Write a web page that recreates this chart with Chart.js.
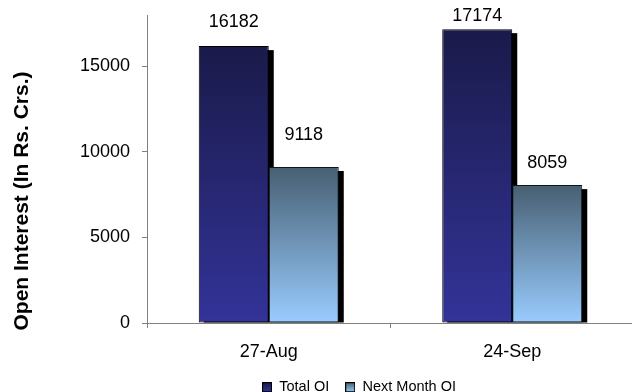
<!DOCTYPE html>
<html>
<head>
<meta charset="utf-8">
<script src="https://cdn.jsdelivr.net/npm/chart.js@4/dist/chart.umd.min.js"></script>
<style>
  html, body { margin: 0; padding: 0; background: #fff; overflow: hidden; }
  #wrap { width: 640px; height: 392px; position: relative; }
</style>
</head>
<body>
<div id="wrap"><canvas id="oi"></canvas></div>
<script>
// Expiry dates and open interest (Rs. crore)
const categories = ['27-Aug', '24-Sep'];
const totalOI = [16182, 17174];
const nextMonthOI = [9118, 8059];
const seriesNames = ['Total OI', 'Next Month OI'];
const yTicks = [0, 5000, 10000, 15000];
const yMax = 18000;

const FONT = "'Liberation Sans', Arial, sans-serif";
const AXIS_GREY = '#808080';

// Top and bottom colours of each series' vertical gradient
const shades = [
  { top: '#1a1a4a', bottom: '#333399' },
  { top: '#475f72', bottom: '#99ccff' }
];

function barFill(shade) {
  return (c) => {
    const chart = c.chart;
    const area = chart.chartArea;
    if (!area || c.type !== 'data') return shade.bottom;
    const y = chart.scales.y;
    const top = y.getPixelForValue(c.raw);
    const base = y.getPixelForValue(0);
    const g = chart.ctx.createLinearGradient(0, top, 0, base);
    g.addColorStop(0, shade.top);
    g.addColorStop(1, shade.bottom);
    return g;
  };
}

// Small gradient squares used as legend markers
function swatch(shade) {
  const s = 10;
  const cv = document.createElement('canvas');
  cv.width = s; cv.height = s;
  const x = cv.getContext('2d');
  const g = x.createLinearGradient(0, 0, 0, s);
  g.addColorStop(0, shade.top);
  g.addColorStop(1, shade.bottom);
  x.fillStyle = g;
  x.fillRect(0, 0, s, s);
  x.strokeStyle = '#000';
  x.lineWidth = 1;
  x.strokeRect(0.5, 0.5, s - 1, s - 1);
  return cv;
}
const swatches = shades.map(swatch);

// Solid drop shadow behind each bar, offset right and down
const barShadow = {
  id: 'barShadow',
  beforeDatasetsDraw(chart, args, opts) {
    const ctx = chart.ctx;
    ctx.save();
    ctx.fillStyle = '#000';
    chart.data.datasets.forEach((ds, i) => {
      chart.getDatasetMeta(i).data.forEach((bar) => {
        const p = bar.getProps(['x', 'y', 'base', 'width'], true);
        const left = p.x - p.width / 2 + opts.dx;
        const top = p.y + opts.dy;
        ctx.fillRect(left, top, p.width, p.base - top);
      });
    });
    ctx.restore();
  }
};

// Value labels above the bars
const valueLabels = {
  id: 'valueLabels',
  afterDatasetsDraw(chart, args, opts) {
    const ctx = chart.ctx;
    ctx.save();
    ctx.font = opts.font;
    ctx.fillStyle = '#000';
    ctx.textAlign = 'center';
    ctx.textBaseline = 'middle';
    chart.data.datasets.forEach((ds, i) => {
      chart.getDatasetMeta(i).data.forEach((bar, j) => {
        const p = bar.getProps(['x', 'y'], true);
        ctx.fillText(String(ds.data[j]), p.x, p.y - opts.lift[i][j]);
      });
    });
    ctx.restore();
  }
};

// Rotated title for the value axis
const sideTitle = {
  id: 'sideTitle',
  afterDraw(chart, args, opts) {
    const ctx = chart.ctx;
    ctx.save();
    ctx.translate(opts.x, opts.y);
    ctx.rotate(-Math.PI / 2);
    ctx.font = opts.font;
    ctx.fillStyle = '#000';
    ctx.textAlign = 'center';
    ctx.textBaseline = 'middle';
    ctx.fillText(opts.text, 0, 0);
    ctx.restore();
  }
};

// Moves the legend sideways after layout
const legendShift = {
  id: 'legendShift',
  afterLayout(chart, args, opts) {
    if (chart.legend) {
      chart.legend.left += opts.dx;
      chart.legend.right += opts.dx;
    }
  }
};

new Chart(document.getElementById('oi'), {
  type: 'bar',
  data: {
    labels: categories,
    datasets: [
      {
        label: seriesNames[0],
        data: totalOI,
        backgroundColor: barFill(shades[0]),
        borderColor: '#000',
        borderWidth: 1,
        borderSkipped: false
      },
      {
        label: seriesNames[1],
        data: nextMonthOI,
        backgroundColor: barFill(shades[1]),
        borderColor: '#0c141c',
        borderWidth: 1,
        borderSkipped: false
      }
    ]
  },
  options: {
    responsive: true,
    maintainAspectRatio: false,
    animation: false,
    layout: { padding: { top: 15, right: 6, left: 0, bottom: 0 } },
    datasets: {
      bar: { categoryPercentage: 0.575, barPercentage: 1.0 }
    },
    scales: {
      x: {
        grid: { display: true, offset: true, drawOnChartArea: false, drawTicks: true, tickLength: 5, color: AXIS_GREY },
        border: { display: true, color: AXIS_GREY, width: 1 },
        ticks: { color: '#000', font: { family: FONT, size: 18 }, padding: 13, maxRotation: 0 },
        afterFit(scale) { scale.height = 41; }
      },
      y: {
        min: 0,
        max: yMax,
        afterBuildTicks(scale) { scale.ticks = yTicks.map(v => ({ value: v })); },
        grid: { display: true, drawOnChartArea: false, drawTicks: true, tickLength: 5, color: AXIS_GREY },
        border: { display: true, color: AXIS_GREY, width: 1 },
        ticks: { color: '#000', font: { family: FONT, size: 18 }, padding: 12, callback: (v) => String(v) },
        afterFit(scale) {
          scale.width = 147;
          scale.paddingTop = 0;
          scale.paddingBottom = 0;
        }
      }
    },
    plugins: {
      legend: {
        position: 'bottom',
        maxHeight: 28,
        labels: {
          usePointStyle: true,
          boxWidth: 10,
          boxHeight: 10,
          padding: 16,
          color: '#000',
          font: { family: FONT, size: 14.5 },
          generateLabels: (chart) => chart.data.datasets.map((ds, i) => ({
            text: ds.label,
            pointStyle: swatches[i],
            datasetIndex: i,
            hidden: false,
            lineWidth: 0,
            fillStyle: 'transparent',
            strokeStyle: 'transparent'
          }))
        }
      },
      tooltip: { enabled: false },
      barShadow: { dx: 5, dy: 4 },
      valueLabels: { font: "18px " + FONT, lift: [[24, 13], [32, 22]] },
      sideTitle: { text: 'Open Interest (In Rs. Crs.)', font: "bold 21px " + FONT, x: 22, y: 201 },
      legendShift: { dx: 42 }
    }
  },
  plugins: [barShadow, valueLabels, sideTitle, legendShift]
});
</script>
</body>
</html>
